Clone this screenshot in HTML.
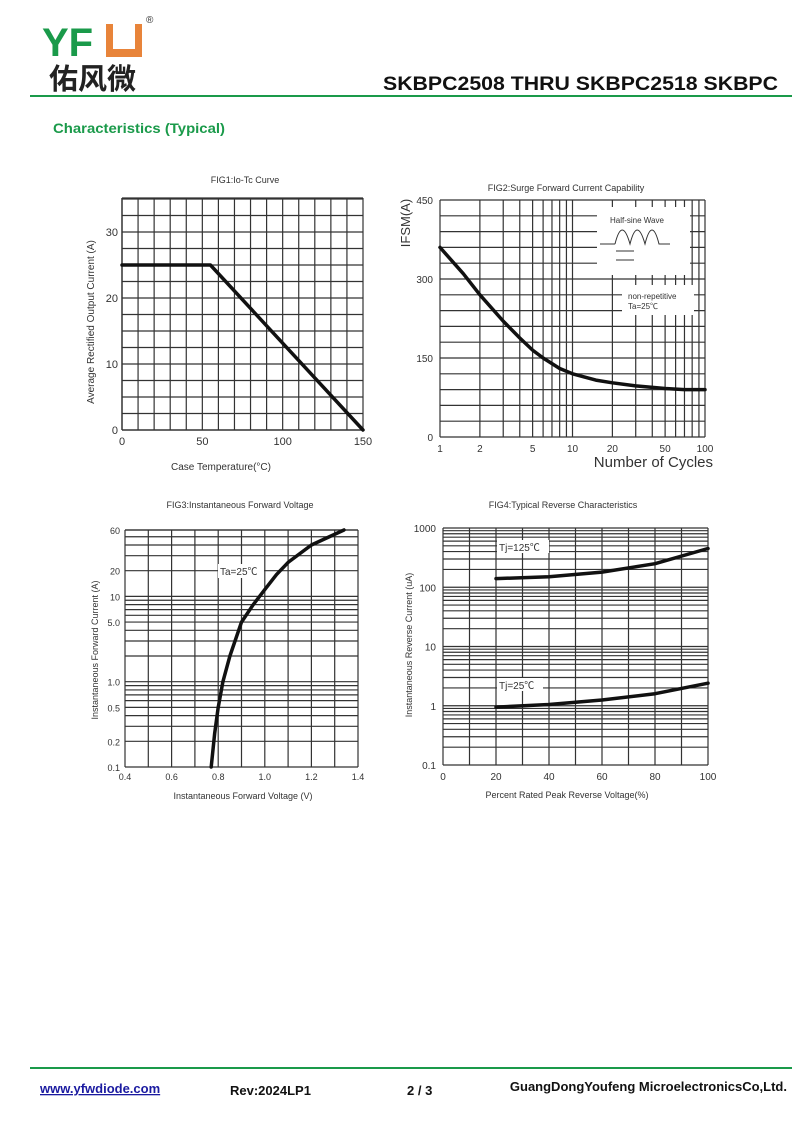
<!DOCTYPE html>
<html><head><meta charset="utf-8"><style>
body{margin:0;background:#fff;}
svg{display:block;font-family:"Liberation Sans","Noto Sans CJK SC",sans-serif;}
</style></head><body>
<svg id="pg" width="800" height="1130" viewBox="0 0 800 1130">
<g>
 <text x="42" y="56" font-size="40" font-weight="bold" fill="#1a9a4a">YF</text>
 <rect x="106" y="24" width="36" height="33" fill="#e8843a"/>
 <rect x="113" y="24" width="22" height="25" fill="#fff"/>
 <text x="146" y="23" font-size="10" fill="#333">®</text>
 <text x="49" y="89" font-size="29" font-weight="bold" fill="#222" font-family="'Noto Sans CJK SC',sans-serif">佑风微</text>
 <text x="383" y="90" font-size="19" font-weight="bold" fill="#111" textLength="395" lengthAdjust="spacingAndGlyphs">SKBPC2508 THRU SKBPC2518 SKBPC</text>
 <line x1="30" y1="96" x2="792" y2="96" stroke="#1a9a4a" stroke-width="2"/>
 <text x="53" y="133" font-size="14" font-weight="bold" fill="#1a9a4a" textLength="172" lengthAdjust="spacingAndGlyphs">Characteristics (Typical)</text>
</g>
<g id="c1"></g>
<g id="c2"></g>
<g id="c3"></g>
<g id="c4"></g>
<g>
 <line x1="30" y1="1068" x2="792" y2="1068" stroke="#1a9a4a" stroke-width="2"/>
 <text x="40" y="1093" font-size="13" font-weight="bold" fill="#1a1aa0" text-decoration="underline">www.yfwdiode.com</text>
 <text x="230" y="1095" font-size="13" font-weight="bold" fill="#111">Rev:2024LP1</text>
 <text x="407" y="1095" font-size="13" font-weight="bold" fill="#111">2 / 3</text>
 <text x="787" y="1091" font-size="13" font-weight="bold" fill="#111" text-anchor="end">GuangDongYoufeng MicroelectronicsCo,Ltd.</text>
</g>
</svg>
<script>
// FIG1 data
const f1X=[0,55,150];
const f1Y=[25,25,0];
const f1XTicks=[0,50,100,150];
const f1YTicks=[0,10,20,30];
// FIG2 data
const f2X=[1,1.5,2,3,4,5,6,8,10,15,20,30,50,70,100];
const f2Y=[360,310,270,220,188,165,150,130,120,108,103,97,92,90,90];
const f2XTicks=[1,2,5,10,20,50,100];
const f2YTicks=[0,150,300,450];
// FIG3 data
const f3X=[0.77,0.785,0.8,0.82,0.85,0.9,0.95,1.0,1.05,1.1,1.2,1.34];
const f3Y=[0.1,0.25,0.5,1,2,5,8,12,18,25,40,60];
const f3XTicks=[0.4,0.6,0.8,1.0,1.2,1.4];
const f3YTicks=[0.1,0.2,0.5,1.0,5.0,10,20,60];
const f3YLabels=["0.1","0.2","0.5","1.0","5.0","10","20","60"];
// FIG4 data
const f4X=[20,40,60,80,100];
const f4Y125=[140,150,180,250,450];
const f4Y25=[0.95,1.05,1.25,1.6,2.4];
const f4XTicks=[0,20,40,60,80,100];
const f4YTicks=[0.1,1,10,100,1000];
const f4YLabels=["0.1","1","10","100","1000"];

const NS="http://www.w3.org/2000/svg";
function mk(p,tag,at,txt){const e=document.createElementNS(NS,tag);for(const k in at)e.setAttribute(k,at[k]);if(txt!==undefined)e.textContent=txt;p.appendChild(e);return e;}
function lin(d0,d1,r0,r1){return v=>r0+(v-d0)/(d1-d0)*(r1-r0);}
function lg(d0,d1,r0,r1){return v=>r0+(Math.log10(v)-Math.log10(d0))/(Math.log10(d1)-Math.log10(d0))*(r1-r0);}
function gl(g,x1,y1,x2,y2,w){const l=mk(g,'line',{x1,y1,x2,y2,stroke:'#333','stroke-width':w||1});

}
function txt(g,x,y,s,size,anchor,name,extra){const t=mk(g,'text',Object.assign({x,y,'font-size':size,'text-anchor':anchor||'middle',fill:'#333'},extra||{}),s);

return t;}
function curve(g,xs,ys,sx,sy,name){const d=xs.map((v,i)=>(i?'L':'M')+sx(v).toFixed(1)+' '+sy(ys[i]).toFixed(1)).join(' ');
const p=mk(g,'path',{d,fill:'none',stroke:'#111','stroke-width':3.5,'stroke-linejoin':'round','stroke-linecap':'round'});

}
function logLines(d0,d1){const a=[];for(let e=Math.floor(Math.log10(d0));e<Math.log10(d1);e++)for(let m=1;m<10;m++){const v=m*Math.pow(10,e);if(v>=d0-1e-9&&v<=d1+1e-9)a.push(v);}a.push(d1);return a;}

// FIG1
(function(){const g=document.getElementById('c1');const L=122,R=363,T=198,B=430;
const sx=lin(0,150,L,R),sy=lin(0,30,B,232);
for(let v=0;v<=150;v+=10)gl(g,sx(v),T,sx(v),B,v==0?1.5:1.2);
for(let v=0;v<=35;v+=2.5)gl(g,L,sy(v),R,sy(v),v==0?1.5:1.2);
gl(g,L,T,R,T,1.2);
f1XTicks.forEach(v=>txt(g,sx(v),445,String(v),11,'middle','x-tick-label'));
f1YTicks.forEach(v=>txt(g,L-4,sy(v)+4,String(v),11,'end','y-tick-label'));
curve(g,f1X,f1Y,sx,sy,'io-tc-line');
txt(g,245,183,'FIG1:Io-Tc Curve',9,'middle','chart-title');
txt(g,221,470,'Case Temperature(°C)',10,'middle','x-axis-title');
txt(g,94,322,'Average Rectified Output Current (A)',10,'middle','y-axis-title',{transform:'rotate(-90 94 322)'});
})();

(function(){
// FIG2
const g=document.getElementById('c2');const L=440,R=705,T=200,B=437;
const sx=lg(1,100,L,R),sy=lin(0,450,B,T);
logLines(1,100).forEach(v=>gl(g,sx(v),T,sx(v),B,1.2));
for(let v=0;v<=450;v+=30)gl(g,L,sy(v),R,sy(v),1.2);
const w1=mk(g,'rect',{x:597,y:207,width:93,height:68,fill:'#fff'});


const w2=mk(g,'rect',{x:622,y:285,width:72,height:30,fill:'#fff'});


txt(g,637,223,'Half-sine Wave',8,'middle','inset-title');
const wv=mk(g,'path',{d:'M600 244 H615 M615 244 Q622 216 630 244 Q637 216 645 244 Q652 216 659 244 H670 M616 251 H634 M616 260 H634',fill:'none',stroke:'#333','stroke-width':1});


txt(g,628,299,'non-repetitive',8,'start','inset-note');
txt(g,628,309,'Ta=25℃',8,'start','inset-note');
f2XTicks.forEach(v=>txt(g,sx(v),452,String(v),10,'middle','x-tick-label'));
f2YTicks.forEach(v=>txt(g,L-7,sy(v)+4,String(v),10,'end','y-tick-label'));
curve(g,f2X,f2Y,sx,sy,'ifsm-curve');
txt(g,566,191,'FIG2:Surge Forward Current Capability',9,'middle','chart-title');
txt(g,713,467,'Number of Cycles',15,'end','x-axis-title');
txt(g,410,223,'IFSM(A)',13,'middle','y-axis-title',{transform:'rotate(-90 410 223)'});
// FIG3
const g3=document.getElementById('c3');const L3=125,R3=358,T3=530,B3=767;
const sx3=lin(0.4,1.4,L3,R3),sy3=lg(0.1,60,B3,T3);
for(let i=0;i<=10;i++)gl(g3,sx3(0.4+i*0.1),T3,sx3(0.4+i*0.1),B3,1.2);
logLines(0.1,60).forEach(v=>gl(g3,L3,sy3(v),R3,sy3(v),1.2));
f3XTicks.forEach(v=>txt(g3,sx3(v),780,v.toFixed(1),9,'middle','x-tick-label'));
f3YTicks.forEach((v,i)=>txt(g3,L3-5,sy3(v)+4,f3YLabels[i],9,'end','y-tick-label'));
const bg=mk(g3,'rect',{x:218,y:564,width:46,height:14,fill:'#fff'});


txt(g3,220,575,'Ta=25℃',10,'start','temperature-label');
curve(g3,f3X,f3Y,sx3,sy3,'forward-voltage-curve');
txt(g3,240,508,'FIG3:Instantaneous Forward Voltage',9,'middle','chart-title');
txt(g3,243,799,'Instantaneous Forward Voltage (V)',9,'middle','x-axis-title');
txt(g3,98,650,'Instantaneous Forward Current (A)',9,'middle','y-axis-title',{transform:'rotate(-90 98 650)'});
// FIG4
const g4=document.getElementById('c4');const L4=443,R4=708,T4=528,B4=765;
const sx4=lin(0,100,L4,R4),sy4=lg(0.1,1000,B4,T4);
for(let v=0;v<=100;v+=10)gl(g4,sx4(v),T4,sx4(v),B4,1.2);
logLines(0.1,1000).forEach(v=>gl(g4,L4,sy4(v),R4,sy4(v),1.2));
const b1=mk(g4,'rect',{x:497,y:540,width:52,height:13,fill:'#fff'});


const b2=mk(g4,'rect',{x:497,y:678,width:46,height:13,fill:'#fff'});


txt(g4,499,551,'Tj=125℃',10,'start','series-label-125c');
txt(g4,499,689,'Tj=25℃',10,'start','series-label-25c');
curve(g4,f4X,f4Y125,sx4,sy4,'reverse-curve-125c');
curve(g4,f4X,f4Y25,sx4,sy4,'reverse-curve-25c');
f4XTicks.forEach(v=>txt(g4,sx4(v),780,String(v),10,'middle','x-tick-label'));
f4YTicks.forEach((v,i)=>txt(g4,L4-7,sy4(v)+4,f4YLabels[i],10,'end','y-tick-label'));
txt(g4,563,508,'FIG4:Typical Reverse Characteristics',9,'middle','chart-title');
txt(g4,567,798,'Percent Rated Peak Reverse Voltage(%)',9,'middle','x-axis-title');
txt(g4,412,645,'Instantaneous Reverse Current (uA)',9,'middle','y-axis-title',{transform:'rotate(-90 412 645)'});
})();
</script>
</body></html>
